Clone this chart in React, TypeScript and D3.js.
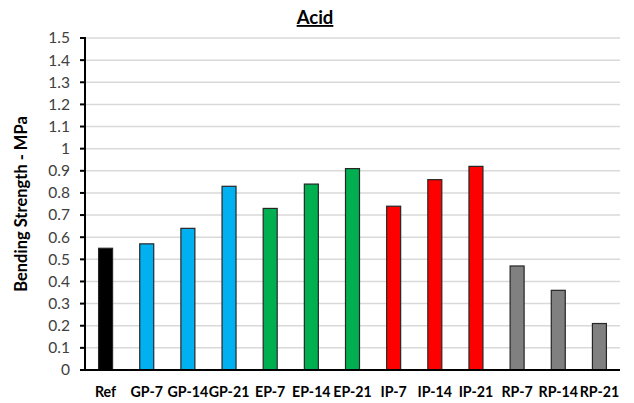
import React from "react";
import * as d3 from "d3";

const categories = ["Ref", "GP-7", "GP-14", "GP-21", "EP-7", "EP-14", "EP-21", "IP-7", "IP-14", "IP-21", "RP-7", "RP-14", "RP-21"];
const values = [0.55, 0.57, 0.64, 0.83, 0.73, 0.84, 0.91, 0.74, 0.86, 0.92, 0.47, 0.36, 0.21];
const barColors = ["#000000", "#00B0F0", "#00B0F0", "#00B0F0", "#00B050", "#00B050", "#00B050", "#FF0000", "#FF0000", "#FF0000", "#808080", "#808080", "#808080"];
const yTicks = [0, 0.1, 0.2, 0.3, 0.4, 0.5, 0.6, 0.7, 0.8, 0.9, 1, 1.1, 1.2, 1.3, 1.4, 1.5];
const title = "Acid";
const yTitle = "Bending Strength - MPa";

const W = 634, H = 403;
const left = 85, right = 620, top = 38, bottom = 370;
const font = "Lato, Carlito, 'Open Sans', sans-serif";

export default function App() {
  const x = d3.scaleBand<string>().domain(categories).range([left, right]).paddingInner(0.66).paddingOuter(0.33);
  const y = d3.scaleLinear().domain([0, 1.5]).range([bottom, top]);
  return (
    <svg width={W} height={H} style={{ position: "absolute", left: 0, top: 0, background: "#fff" }}>
      <rect x={0} y={0} width={W} height={H} fill="#fff" />
      {yTicks.map((t) => (
        <line key={"g" + t} x1={left} x2={right} y1={y(t)} y2={y(t)} stroke="#d9d9d9" strokeWidth={1.5} />
      ))}
      {categories.map((c, i) => (
        <rect key={c} x={x(c)} y={y(values[i])} width={x.bandwidth()} height={y(0) - y(values[i])}
          fill={barColors[i]} stroke="#262626" strokeWidth={1.2} />
      ))}
      <line x1={left} x2={left} y1={top - 1} y2={bottom} stroke="#000" strokeWidth={2} />
      <line x1={left} x2={right} y1={bottom} y2={bottom} stroke="#000" strokeWidth={2} />
      {yTicks.map((t) => (
        <g key={"t" + t}>
          <line x1={left - 5} x2={left} y1={y(t)} y2={y(t)} stroke="#000" strokeWidth={2} />
          <text x={70} y={y(t)} dy="0.35em" textAnchor="end" fontFamily={font} fontSize={15.5} fill="#404040">
            {d3.format("~g")(t)}
          </text>
        </g>
      ))}
      {categories.map((c) => (
        <text key={"l" + c} x={(x(c) as number) + x.bandwidth() / 2} y={397} textAnchor="middle"
          fontFamily={font} fontSize={14.2} fontWeight="bold" fill="#000">{c}</text>
      ))}
      <text x={315} y={24} textAnchor="middle" fontFamily={font} fontSize={18.5} fontWeight="bold"
        textDecoration="underline" fill="#000">{title}</text>
      <text transform={`translate(27,${(top + bottom) / 2}) rotate(-90)`} textAnchor="middle"
        fontFamily={font} fontSize={16.5} fontWeight="bold" fill="#000">{yTitle}</text>
    </svg>
  );
}
